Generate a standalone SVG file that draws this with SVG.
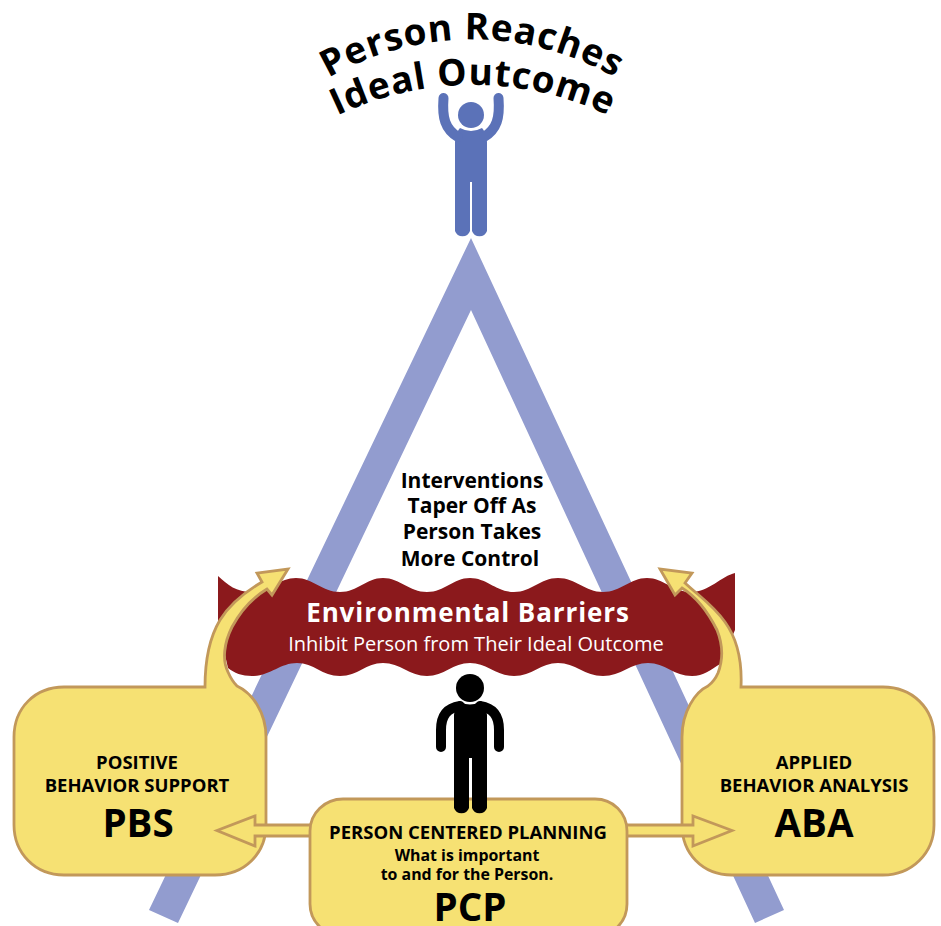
<svg xmlns="http://www.w3.org/2000/svg" width="941" height="926" viewBox="0 0 941 926">
<style>
text{font-family:"Open Sans","DejaVu Sans",sans-serif;font-weight:700;fill:#000;text-anchor:middle}
.y{fill:#F6E173;stroke:#C2985A;stroke-width:2.8;stroke-linejoin:miter}
.w{fill:#fff}
.t17{font-size:18.5px}
.big{font-size:38.5px}
.iv{font-size:21px}
.arc{font-size:37px}
</style>
<defs>
<path id="arc1" d="M297 99A287 287 0 0 1 647 99"/>
<path id="arc2" d="M306 133A314 314 0 0 1 640 133"/>
</defs>
<rect width="941" height="926" fill="#fff"/>
<path id="triangle" fill="#929CCF" d="M471 238L784 910L755 923L471 310L178 923L149 910Z"/>
<g id="outcome-title">
<text class="arc" letter-spacing=".8"><textPath href="#arc1" startOffset="50%">Person Reaches</textPath></text>
<text class="arc" letter-spacing=".8"><textPath href="#arc2" startOffset="50%">Ideal Outcome</textPath></text>
</g>
<g id="person-top" fill="#5B72B8">
<circle cx="471" cy="115" r="13"/>
<path d="M455 142Q456 132 460 128Q471 134 482 128Q486 132 487 142V231a8 8 0 0 1-15 0V182H470V231a8 8 0 0 1-15 0Z"/>
<path d="M443.5 98C442 118 445 129 458 137M498.5 98C500 118 497 129 484 137" fill="none" stroke="#5B72B8" stroke-width="10" stroke-linecap="round"/>
</g>
<g id="intervention-label">
<text class="iv" x="472" y="488">Interventions</text>
<text class="iv" x="472" y="513">Taper Off As</text>
<text class="iv" x="472" y="539">Person Takes</text>
<text class="iv" x="470" y="566">More Control</text>
</g>
<g id="barrier">
<path fill="#8B191C" d="M218 576C228 585 236 592 252 592C270 592 279 578 296 578C313 578 322 592 340 592C358 592 366 578 383 578C400 578 409 592 427 592C445 592 453 578 470 578C487 578 496 592 514 592C532 592 540 578 558 578C576 578 585 592 603 592C621 592 630 578 647 578C664 578 672 592 692 592C708 592 722 576 735 573V630L720 664C710 670 704 676 692 676C674 676 665 663 648 663C631 663 621 676 603 676C585 676 575 663 558 663C541 663 532 676 514 676C496 676 487 663 470 663C453 663 444 676 427 676C410 676 400 663 383 663C366 663 358 676 340 676C322 676 314 663 297 663C280 663 270 676 252 676C242 676 234 673 228 668L218 625Z"/>
<text x="468" y="622" font-size="26" class="w" letter-spacing=".9">Environmental Barriers</text>
<text x="476" y="651" font-size="20" class="w" style="font-weight:400">Inhibit Person from Their Ideal Outcome</text>
</g>
<g id="pbs">
<path class="y" d="M64 687H205C205 665 208 640 220 620C230 604 245 592 262 582L257 573L288 569L272 595L267 589C252 598 240 612 232 627C224 643 222 660 228 672C231 679 233 682 237 686C252 693 266 712 266 737V825C266 853 245 875 215 875H64C35 875 14 853 14 825V737C14 708 35 687 64 687Z"/>
<text class="t17" x="137" y="769">POSITIVE</text>
<text class="t17" x="137" y="792">BEHAVIOR SUPPORT</text>
<text class="big" x="138" y="837">PBS</text>
</g>
<g id="aba">
<path class="y" d="M883 687H741C742 665 738 640 725 622C713 605 700 597 685 583L692 573L660 569L675 595L682 588C695 596 708 612 717 630C723 645 723 660 718 673C715 680 712 683 708 686C695 692 682 712 682 737V825C682 853 702 875 732 875H883C912 875 934 853 934 825V737C934 708 912 687 883 687Z"/>
<text class="t17" x="814" y="769">APPLIED</text>
<text class="t17" x="814" y="792">BEHAVIOR ANALYSIS</text>
<text class="big" x="814" y="837">ABA</text>
</g>
<g id="connectors">
<path class="y" d="M320 825H255V816L217 830.5L255 846V836H320Z"/>
<path class="y" d="M620 825H693V816L732 830.5L693 846V836H620Z"/>
</g>
<g id="pcp">
<path class="y" d="M343 799H595C613 799 627 813 627 831V904C627 922 613 936 595 936H343C325 936 310 922 310 904V831C310 813 325 799 343 799Z"/>
<text x="468" y="839" font-size="18.5">PERSON CENTERED PLANNING</text>
<text x="467" y="861" font-size="15.9">What is important</text>
<text x="467" y="880" font-size="15.9">to and for the Person.</text>
<text class="big" x="470" y="921">PCP</text>
</g>
<g id="person-center">
<circle cx="470" cy="688" r="14"/>
<path d="M454 715Q455 706 459 701Q470 708 481 701Q486 706 487 715V808a8 8 0 0 1-15 0V758H469V808a8 8 0 0 1-15 0Z"/>
<path d="M460 706C447 708 441 716 441 730V747M480 706C493 708 499 716 499 730V747" fill="none" stroke="#000" stroke-width="10" stroke-linecap="round"/>
</g>
</svg>
